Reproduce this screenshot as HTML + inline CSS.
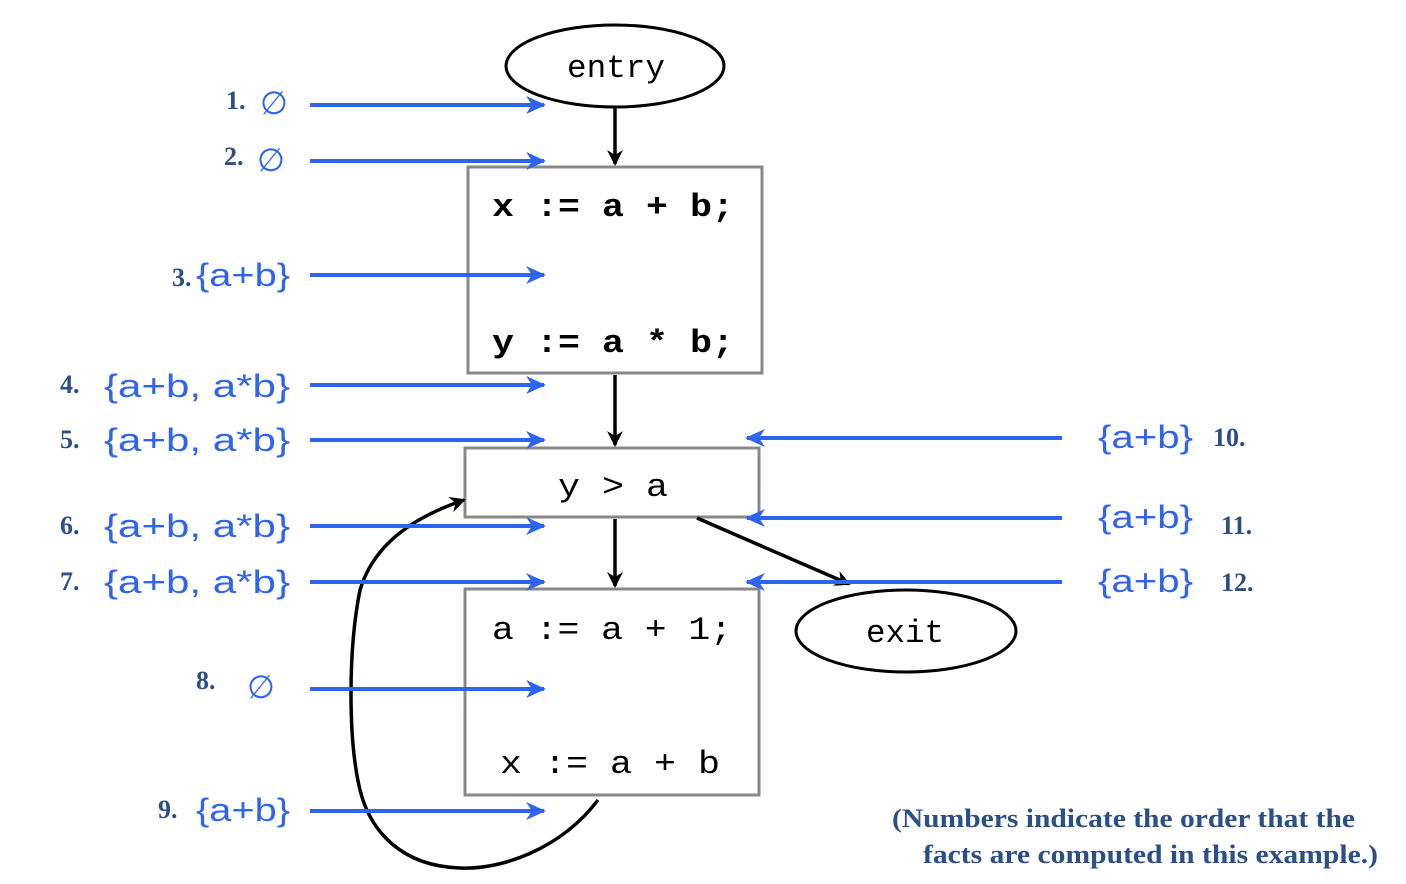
<!DOCTYPE html>
<html><head><meta charset="utf-8"><style>
html,body{margin:0;padding:0;background:#fff;}
svg{display:block;}
.num{font-family:"Liberation Serif",serif;font-weight:bold;font-size:26px;fill:#2b4f86;}
.set{font-family:"Liberation Sans",sans-serif;font-size:32px;fill:#2f64f0;}
.code{font-family:"Liberation Mono",monospace;font-weight:bold;font-size:32px;fill:#000;}
.note{font-family:"Liberation Serif",serif;font-weight:bold;font-size:26px;fill:#2b4f86;}
</style></head><body>
<svg width="1406" height="884" viewBox="0 0 1406 884">
<defs>
<marker id="ba" markerWidth="20" markerHeight="20" refX="18" refY="10" orient="auto" markerUnits="userSpaceOnUse"><path d="M0,1 L20,10 L0,19 L6,10 Z" fill="#2f64f0"/></marker>
<marker id="ka" markerWidth="16" markerHeight="16" refX="14" refY="8" orient="auto" markerUnits="userSpaceOnUse"><path d="M0,0 L16,8 L0,16 L5,8 Z" fill="#000"/></marker>
</defs>
<g>
<ellipse cx="615" cy="66" rx="109" ry="41" fill="none" stroke="#000" stroke-width="3"/>
<text class="code" x="567" y="77" textLength="98" lengthAdjust="spacingAndGlyphs" style="font-weight:normal">entry</text></g>
<g>
<ellipse cx="906" cy="631" rx="110" ry="41" fill="none" stroke="#000" stroke-width="3"/>
<text class="code" x="866" y="642" textLength="78" lengthAdjust="spacingAndGlyphs" style="font-weight:normal">exit</text></g>
<g>
<rect x="468" y="167" width="294" height="206" fill="none" stroke="#888" stroke-width="3"/>
<text class="code" x="492" y="216" textLength="242" lengthAdjust="spacingAndGlyphs">x := a + b;</text>
<text class="code" x="492" y="352" textLength="242" lengthAdjust="spacingAndGlyphs">y := a * b;</text></g>
<g>
<rect x="465" y="448" width="294" height="69" fill="none" stroke="#888" stroke-width="3"/>
<text class="code" x="558" y="496" textLength="110" lengthAdjust="spacingAndGlyphs" style="font-weight:normal">y &gt; a</text></g>
<g>
<rect x="465" y="589" width="294" height="206" fill="none" stroke="#888" stroke-width="3"/>
<text class="code" x="492" y="639" textLength="240" lengthAdjust="spacingAndGlyphs" style="font-weight:normal">a := a + 1;</text>
<text class="code" x="500" y="773" textLength="220" lengthAdjust="spacingAndGlyphs" style="font-weight:normal">x := a + b</text></g>
<g stroke="#000" stroke-width="3.5" fill="none">
<line x1="615" y1="108" x2="615" y2="164" marker-end="url(#ka)"/>
<line x1="615" y1="375" x2="615" y2="445" marker-end="url(#ka)"/>
<line x1="615" y1="519" x2="615" y2="586" marker-end="url(#ka)"/>
<line x1="697" y1="518" x2="849" y2="584" marker-end="url(#ka)"/>
<path d="M598,800 C560,850 500,870 460,868 C400,866 370,830 360,790 C348,740 348,650 360,590 C375,540 420,515 464,500" marker-end="url(#ka)"/>
</g>
<g stroke="#2f64f0" stroke-width="4" fill="none">
<line x1="310" y1="105" x2="544" y2="105" marker-end="url(#ba)"/>
<line x1="310" y1="161" x2="544" y2="161" marker-end="url(#ba)"/>
<line x1="310" y1="275" x2="544" y2="275" marker-end="url(#ba)"/>
<line x1="310" y1="385" x2="544" y2="385" marker-end="url(#ba)"/>
<line x1="310" y1="440" x2="544" y2="440" marker-end="url(#ba)"/>
<line x1="310" y1="526" x2="544" y2="526" marker-end="url(#ba)"/>
<line x1="310" y1="582" x2="544" y2="582" marker-end="url(#ba)"/>
<line x1="310" y1="689" x2="544" y2="689" marker-end="url(#ba)"/>
<line x1="310" y1="811" x2="544" y2="811" marker-end="url(#ba)"/>
<line x1="1062" y1="438" x2="747" y2="438" marker-end="url(#ba)"/>
<line x1="1062" y1="518" x2="747" y2="518" marker-end="url(#ba)"/>
<line x1="1062" y1="582" x2="747" y2="582" marker-end="url(#ba)"/>
</g>
<g>
<text class="num" x="226" y="109">1.</text><text class="set" x="260" y="114">∅</text>
<text class="num" x="224" y="165">2.</text><text class="set" x="257" y="171">∅</text>
<text class="num" x="172" y="286">3.</text><text class="set" x="196" y="286" textLength="94" lengthAdjust="spacingAndGlyphs">{a+b}</text>
<text class="num" x="60" y="393">4.</text><text class="set" x="104" y="397" textLength="186" lengthAdjust="spacingAndGlyphs">{a+b, a*b}</text>
<text class="num" x="60" y="448">5.</text><text class="set" x="104" y="451" textLength="186" lengthAdjust="spacingAndGlyphs">{a+b, a*b}</text>
<text class="num" x="60" y="534">6.</text><text class="set" x="104" y="537" textLength="186" lengthAdjust="spacingAndGlyphs">{a+b, a*b}</text>
<text class="num" x="60" y="590">7.</text><text class="set" x="104" y="593" textLength="186" lengthAdjust="spacingAndGlyphs">{a+b, a*b}</text>
<text class="num" x="196" y="689">8.</text><text class="set" x="247" y="698">∅</text>
<text class="num" x="158" y="818">9.</text><text class="set" x="196" y="821" textLength="94" lengthAdjust="spacingAndGlyphs">{a+b}</text>
<text class="set" x="1098" y="448" textLength="95" lengthAdjust="spacingAndGlyphs">{a+b}</text><text class="num" x="1213" y="446">10.</text>
<text class="set" x="1098" y="528" textLength="95" lengthAdjust="spacingAndGlyphs">{a+b}</text><text class="num" x="1221" y="534">11.</text>
<text class="set" x="1098" y="592" textLength="95" lengthAdjust="spacingAndGlyphs">{a+b}</text><text class="num" x="1221" y="591">12.</text>
</g>
<g>
<text class="note" x="892" y="827" textLength="463" lengthAdjust="spacingAndGlyphs">(Numbers indicate the order that the</text>
<text class="note" x="923" y="863" textLength="455" lengthAdjust="spacingAndGlyphs">facts are computed in this example.)</text>
</g>
</svg>
</body></html>
